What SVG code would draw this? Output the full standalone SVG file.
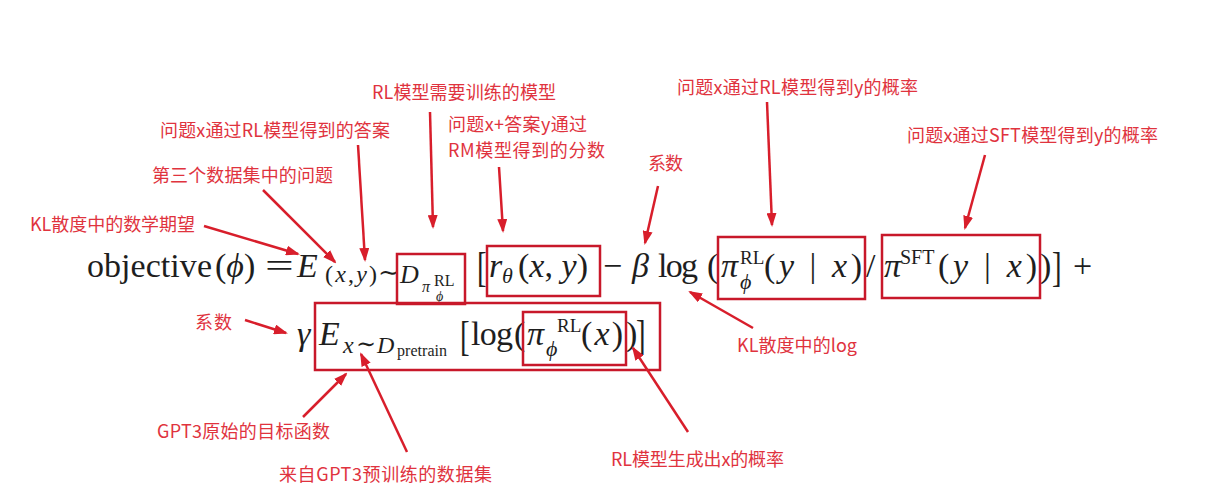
<svg xmlns="http://www.w3.org/2000/svg" width="1228" height="504" viewBox="0 0 1228 504">
<style>
.m{font-family:"Liberation Serif","DejaVu Serif",serif;fill:#1e1e1e}
.i{font-style:italic}
.lb{font-family:"Noto Sans CJK SC","Noto Sans",sans-serif;font-size:18px;fill:#e0333e}
.bx{fill:none;stroke:#c8182a;stroke-width:2.5}
.ar{stroke:#d81e2b;stroke-width:2.5;fill:none;marker-end:url(#ah)}
</style>
<defs>
<marker id="ah" markerWidth="14" markerHeight="10" refX="12" refY="5" orient="auto" markerUnits="userSpaceOnUse">
<path d="M0,0 L14,5 L0,10 z" fill="#d81e2b"/>
</marker>
</defs>
<rect width="1228" height="504" fill="#ffffff"/>

<g id="formula">
<g id="line1">
<text class="m" x="87" y="277" font-size="34" textLength="125">objective</text>
<text class="m" x="215" y="277" font-size="34">(<tspan class="i">ϕ</tspan>)</text>
<text class="m" transform="translate(265,277) scale(1.5,1)" font-size="34">=</text>
<text class="m i" x="297" y="277" font-size="34">E</text>
<text class="m" x="325" y="282" font-size="24" textLength="52">(<tspan class="i">x</tspan>,<tspan class="i">y</tspan>)</text>
<text class="m" x="378" y="281" font-size="26">∼</text>
<text class="m i" x="400" y="283" font-size="26">D</text>
<text class="m i" x="422" y="292" font-size="16">π</text>
<text class="m" x="434" y="286" font-size="16">RL</text>
<text class="m i" x="436" y="301" font-size="14">ϕ</text>
<text class="m" transform="translate(477,281) scale(0.9,1.35)" font-size="32">[</text>
<text class="m i" x="489" y="277" font-size="34">r</text>
<text class="m i" x="502" y="283" font-size="22">θ</text>
<text class="m" x="518" y="277" font-size="34" textLength="70">(<tspan class="i">x</tspan>, <tspan class="i">y</tspan>)</text>
<text class="m" x="603" y="277" font-size="34">−</text>
<text class="m i" x="632" y="277" font-size="34">β</text>
<text class="m" x="658" y="277" font-size="34" textLength="40">log</text>
<text class="m" x="707" y="277" font-size="34">(</text>
<text class="m i" x="721" y="277" font-size="34">π</text>
<text class="m" x="740" y="264" font-size="19">RL</text>
<text class="m i" x="740" y="289" font-size="22">ϕ</text>
<text class="m" x="764" y="277" font-size="34" textLength="98">(<tspan class="i">y</tspan> | <tspan class="i">x</tspan>)</text>
<text class="m" x="866" y="277" font-size="34">/</text>
<text class="m i" x="884" y="277" font-size="34">π</text>
<text class="m" x="900" y="264" font-size="20">SFT</text>
<text class="m" x="938" y="277" font-size="34" textLength="99">(<tspan class="i">y</tspan> | <tspan class="i">x</tspan>)</text>
<text class="m" x="1040" y="277" font-size="34">)</text>
<text class="m" transform="translate(1052,281) scale(0.9,1.35)" font-size="32">]</text>
<text class="m" x="1073" y="277" font-size="34">+</text>
</g>
<g id="line2">
<text class="m i" x="297" y="345" font-size="34">γ</text>
<text class="m i" x="319" y="345" font-size="34">E</text>
<text class="m i" x="343" y="353" font-size="24">x</text>
<text class="m" x="356" y="352" font-size="24">∼</text>
<text class="m i" x="377" y="353" font-size="24">D</text>
<text class="m" x="397" y="356" font-size="16" textLength="50">pretrain</text>
<text class="m" transform="translate(460,350) scale(0.9,1.35)" font-size="32">[</text>
<text class="m" x="471" y="345" font-size="34" textLength="42">log</text>
<text class="m" x="514" y="345" font-size="34">(</text>
<text class="m i" x="527" y="345" font-size="34">π</text>
<text class="m" x="557" y="332" font-size="19">RL</text>
<text class="m i" x="546" y="356" font-size="22">ϕ</text>
<text class="m" x="581" y="345" font-size="34" textLength="42">(<tspan class="i">x</tspan>)</text>
<text class="m" x="626" y="345" font-size="34">)</text>
<text class="m" transform="translate(636,349) scale(0.9,1.35)" font-size="32">]</text>
</g>
</g>

<g id="boxes">
<rect id="box-d" class="bx" x="397" y="254" width="68" height="50"/>
<rect id="box-r" class="bx" x="487" y="246" width="113" height="50"/>
<rect id="box-rl" class="bx" x="718" y="237" width="147" height="62"/>
<rect id="box-sft" class="bx" x="882" y="235" width="158" height="63"/>
<rect id="box-pre" class="bx" x="315" y="303" width="345" height="67"/>
<rect id="box-px" class="bx" x="523" y="312" width="103" height="53"/>
</g>

<g id="labels">
<g id="l-rlmodel"><text class="lb" x="372" y="99" textLength="184">RL模型需要训练的模型</text></g>
<g id="l-answer"><text class="lb" x="160" y="137" font-size="19.5" textLength="230">问题x通过RL模型得到的答案</text></g>
<g id="l-rm"><text class="lb" font-size="17.5"><tspan x="448" y="131" textLength="139">问题x+答案y通过</tspan><tspan x="448" y="157" textLength="157">RM模型得到的分数</tspan></text></g>
<g id="l-question"><text class="lb" x="152" y="182" textLength="181">第三个数据集中的问题</text></g>
<g id="l-beta"><text class="lb" x="648" y="170" textLength="35">系数</text></g>
<g id="l-prl"><text class="lb" x="677" y="94" textLength="241">问题x通过RL模型得到y的概率</text></g>
<g id="l-psft"><text class="lb" x="907" y="142" textLength="251">问题x通过SFT模型得到y的概率</text></g>
<g id="l-exp"><text class="lb" x="30" y="231" font-size="20" textLength="165">KL散度中的数学期望</text></g>
<g id="l-gamma"><text class="lb" x="195" y="329" textLength="37">系数</text></g>
<g id="l-log"><text class="lb" x="737" y="352" font-size="16" textLength="120">KL散度中的log</text></g>
<g id="l-gpt3"><text class="lb" x="157" y="438" textLength="173">GPT3原始的目标函数</text></g>
<g id="l-data"><text class="lb" x="279" y="481" textLength="213">来自GPT3预训练的数据集</text></g>
<g id="l-px"><text class="lb" x="611" y="466" textLength="173">RL模型生成出x的概率</text></g>
</g>

<g id="connectors">
<line class="ar" x1="204" y1="226" x2="298" y2="254"/>
<line class="ar" x1="263" y1="190" x2="335" y2="262"/>
<line class="ar" x1="358" y1="145" x2="365" y2="260"/>
<line class="ar" x1="430" y1="112" x2="433" y2="227"/>
<line class="ar" x1="499" y1="167" x2="503" y2="231"/>
<line class="ar" x1="658" y1="186" x2="645" y2="243"/>
<line class="ar" x1="767" y1="102" x2="772" y2="225"/>
<line class="ar" x1="985" y1="155" x2="965" y2="228"/>
<line class="ar" x1="753" y1="328" x2="690" y2="292"/>
<line class="ar" x1="245" y1="320" x2="286" y2="333"/>
<line class="ar" x1="303" y1="417" x2="346" y2="374"/>
<line class="ar" x1="407" y1="452" x2="361" y2="354"/>
<line class="ar" x1="688" y1="432" x2="633" y2="348"/>
</g>
</svg>
